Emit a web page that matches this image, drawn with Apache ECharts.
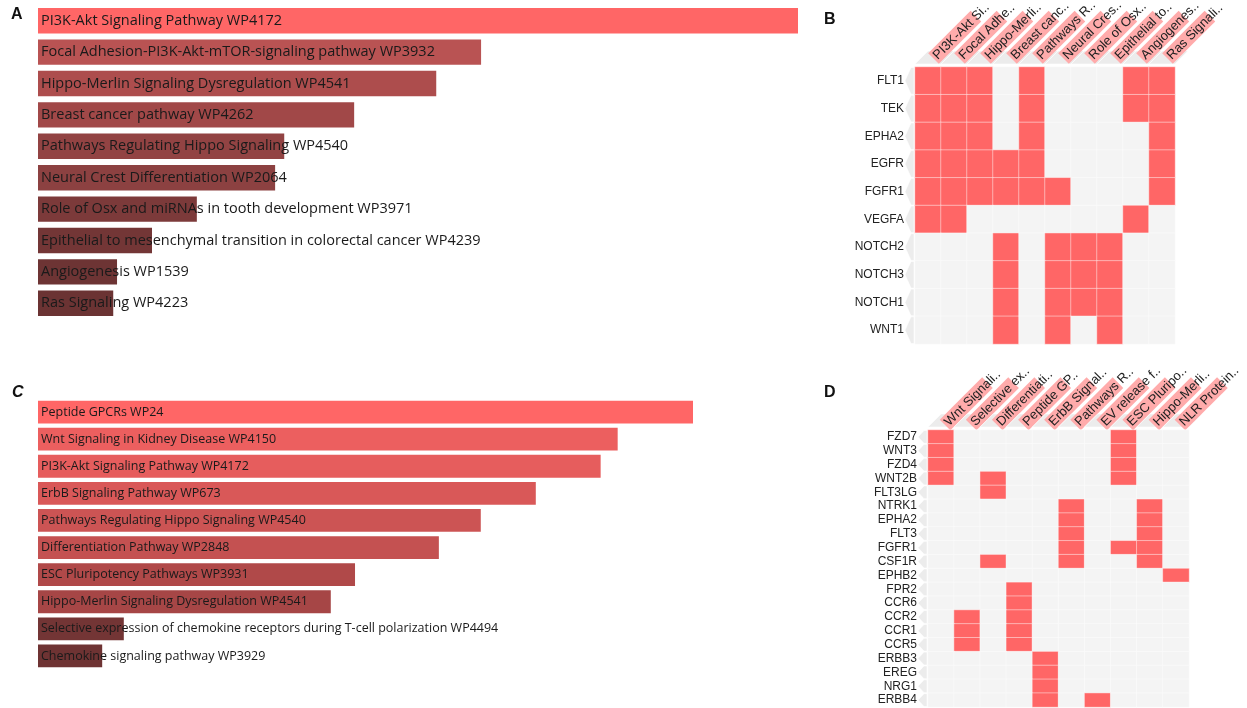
<!DOCTYPE html>
<html>
<head>
<meta charset="utf-8">
<title>Enriched pathways</title>
<script src="https://cdn.jsdelivr.net/npm/echarts@6/dist/echarts.min.js"></script>
<style>
  html, body { margin: 0; padding: 0; background: #fff; }
  #main { width: 1247px; height: 708px; }
</style>
</head>
<body>
<div id="main"></div>
<script>
// ---- panel A : bar chart ----
var aTerms = [
  'PI3K-Akt Signaling Pathway WP4172',
  'Focal Adhesion-PI3K-Akt-mTOR-signaling pathway WP3932',
  'Hippo-Merlin Signaling Dysregulation WP4541',
  'Breast cancer pathway WP4262',
  'Pathways Regulating Hippo Signaling WP4540',
  'Neural Crest Differentiation WP2064',
  'Role of Osx and miRNAs in tooth development WP3971',
  'Epithelial to mesenchymal transition in colorectal cancer WP4239',
  'Angiogenesis WP1539',
  'Ras Signaling WP4223'
];
var aScores = [100, 58.3, 52.4, 41.6, 32.4, 31.2, 20.9, 15.0, 10.4, 9.9];
var aColors = ['#ff6666', '#b95353', '#ad4d4d', '#a14848', '#924343', '#8c4141', '#7c3a3a', '#733636', '#6d3434', '#6b3333'];

// ---- panel C : bar chart ----
var cTerms = [
  'Peptide GPCRs WP24',
  'Wnt Signaling in Kidney Disease WP4150',
  'PI3K-Akt Signaling Pathway WP4172',
  'ErbB Signaling Pathway WP673',
  'Pathways Regulating Hippo Signaling WP4540',
  'Differentiation Pathway WP2848',
  'ESC Pluripotency Pathways WP3931',
  'Hippo-Merlin Signaling Dysregulation WP4541',
  'Selective expression of chemokine receptors during T-cell polarization WP4494',
  'Chemokine signaling pathway WP3929'
];
var cScores = [100, 88.5, 85.9, 76.0, 67.6, 61.2, 48.4, 44.7, 13.1, 9.8];
var cColors = ['#ff6666', '#ec5f5f', '#e65d5d', '#d95858', '#cc5454', '#c45151', '#b04949', '#a64646', '#733535', '#6e3333'];

// ---- panel B : gene x pathway heatmap ----
var bCols = ['PI3K-Akt Si..', 'Focal Adhe..', 'Hippo-Merli..', 'Breast canc..', 'Pathways R..',
             'Neural Cres..', 'Role of Osx..', 'Epithelial to..', 'Angiogenes..', 'Ras Signali..'];
var bRows = ['FLT1', 'TEK', 'EPHA2', 'EGFR', 'FGFR1', 'VEGFA', 'NOTCH2', 'NOTCH3', 'NOTCH1', 'WNT1'];
var bMatrix = [
  [1, 1, 1, 0, 1, 0, 0, 0, 1, 1],
  [1, 1, 1, 0, 1, 0, 0, 0, 1, 1],
  [1, 1, 1, 0, 1, 0, 0, 0, 0, 1],
  [1, 1, 1, 1, 1, 0, 0, 0, 0, 1],
  [1, 1, 1, 1, 1, 1, 0, 0, 0, 1],
  [1, 1, 0, 0, 0, 0, 0, 0, 1, 0],
  [0, 0, 0, 1, 0, 1, 1, 1, 0, 0],
  [0, 0, 0, 1, 0, 1, 1, 1, 0, 0],
  [0, 0, 0, 1, 0, 1, 1, 1, 0, 0],
  [0, 0, 0, 1, 0, 1, 0, 1, 0, 0]
];

// ---- panel D : gene x pathway heatmap ----
var dCols = ['Wnt Signali..', 'Selective ex..', 'Differentiati..', 'Peptide GP..', 'ErbB Signal..',
             'Pathways R..', 'EV release f..', 'ESC Pluripo..', 'Hippo-Merli..', 'NLR Protein..'];
var dRows = ['FZD7', 'WNT3', 'FZD4', 'WNT2B', 'FLT3LG', 'NTRK1', 'EPHA2', 'FLT3', 'FGFR1', 'CSF1R',
             'EPHB2', 'FPR2', 'CCR6', 'CCR2', 'CCR1', 'CCR5', 'ERBB3', 'EREG', 'NRG1', 'ERBB4'];
var dMatrix = [
  [1, 0, 0, 0, 0, 0, 0, 1, 0, 0],
  [1, 0, 0, 0, 0, 0, 0, 1, 0, 0],
  [1, 0, 0, 0, 0, 0, 0, 1, 0, 0],
  [1, 0, 1, 0, 0, 0, 0, 1, 0, 0],
  [0, 0, 1, 0, 0, 0, 0, 0, 0, 0],
  [0, 0, 0, 0, 0, 1, 0, 0, 1, 0],
  [0, 0, 0, 0, 0, 1, 0, 0, 1, 0],
  [0, 0, 0, 0, 0, 1, 0, 0, 1, 0],
  [0, 0, 0, 0, 0, 1, 0, 1, 1, 0],
  [0, 0, 1, 0, 0, 1, 0, 0, 1, 0],
  [0, 0, 0, 0, 0, 0, 0, 0, 0, 1],
  [0, 0, 0, 1, 0, 0, 0, 0, 0, 0],
  [0, 0, 0, 1, 0, 0, 0, 0, 0, 0],
  [0, 1, 0, 1, 0, 0, 0, 0, 0, 0],
  [0, 1, 0, 1, 0, 0, 0, 0, 0, 0],
  [0, 1, 0, 1, 0, 0, 0, 0, 0, 0],
  [0, 0, 0, 0, 1, 0, 0, 0, 0, 0],
  [0, 0, 0, 0, 1, 0, 0, 0, 0, 0],
  [0, 0, 0, 0, 1, 0, 0, 0, 0, 0],
  [0, 0, 0, 0, 1, 0, 1, 0, 0, 0]
];

var barFont = '"Open Sans", "Noto Sans", sans-serif';
var heatFont = '"Liberation Sans", Arial, sans-serif';

function barData(scores, colors) {
  return scores.map(function (v, i) {
    return { value: v, itemStyle: { color: colors[i] } };
  });
}

function cells(matrix) {
  var out = [];
  matrix.forEach(function (row, j) {
    row.forEach(function (v, i) { out.push([i, j, v]); });
  });
  return out;
}

// slanted column headers (grey band + pink tag + text) and grey arrows by row labels
function decor(idx, colLabels, nRows, dx, dy) {
  var data = [];
  for (var i = 0; i < colLabels.length; i++) data.push([i, 0, 0]);
  for (var j = 0; j < nRows; j++) data.push([0, j, 1]);
  return {
    type: 'custom', xAxisIndex: idx, yAxisIndex: idx, silent: true, z: 1,
    data: data,
    renderItem: function (params, api) {
      var c = api.coord([api.value(0), api.value(1)]);
      var s = api.size([1, 1]);
      var w = s[0], h = s[1];
      if (api.value(2) === 0) {
        var top = c[1] - h / 2;
        var x0 = c[0] - w / 2, x1 = c[0] + w / 2;
        return {
          type: 'group',
          children: [
            {
              type: 'polygon',
              shape: { points: [[x0, top - 3], [x1, top - 3], [x1 + 13, top - 16], [x0 + 13, top - 16]] },
              style: { fill: '#ececec', stroke: '#ffffff', lineWidth: 0.6 }
            },
            {
              type: 'group', x: c[0] + dx, y: top - dy, rotation: Math.PI / 4,
              children: [
                { type: 'rect', shape: { x: 0, y: -7.5, width: 60, height: 15 }, style: { fill: '#ffabab' } },
                {
                  type: 'text',
                  style: {
                    text: colLabels[api.value(0)], x: 2, y: 0.5, align: 'left', verticalAlign: 'middle',
                    fontSize: 13, fontFamily: heatFont, fill: '#222'
                  }
                }
              ]
            }
          ]
        };
      }
      var gx = c[0] - w / 2;
      var y0 = c[1] - h / 2 + 0.5, y1 = c[1] + h / 2 - 0.5;
      return {
        type: 'polygon',
        shape: { points: [[gx - 10, c[1]], [gx - 4, y0], [gx - 1, y0], [gx - 1, y1], [gx - 4, y1]] },
        style: { fill: '#ececec', stroke: '#ffffff', lineWidth: 0.6 }
      };
    }
  };
}

function heatXAxis(idx, labels) {
  return {
    gridIndex: idx, type: 'category', position: 'top', data: labels,
    axisLine: { show: false }, axisTick: { show: false }, splitLine: { show: false },
    axisLabel: { show: false }
  };
}

function heatYAxis(idx, labels) {
  return {
    gridIndex: idx, type: 'category', data: labels, inverse: true,
    axisLine: { show: false }, axisTick: { show: false }, splitLine: { show: false },
    axisLabel: { interval: 0, margin: 11, fontSize: 12, fontFamily: heatFont, color: '#222' }
  };
}

var heatItem = { borderColor: 'rgba(255,255,255,0.75)', borderWidth: 0.6 };
var letterStyle = { fontSize: 16, fontWeight: 'bold', fontFamily: heatFont, color: '#111' };

var option = {
  animation: false,
  backgroundColor: '#ffffff',
  title: [
    { text: 'A', left: 11, top: 7, padding: 0, textStyle: letterStyle },
    { text: 'B', left: 824, top: 12, padding: 0, textStyle: letterStyle },
    { text: 'C', left: 12, top: 385, padding: 0, textStyle: { fontSize: 16, fontWeight: 'bold', fontStyle: 'italic', fontFamily: heatFont, color: '#111' } },
    { text: 'D', left: 824, top: 385, padding: 0, textStyle: letterStyle }
  ],
  grid: [
    { left: 38, top: 5, width: 760, height: 314 },
    { left: 38, top: 398.5, width: 655, height: 271 },
    { left: 915, top: 67, width: 260, height: 277 },
    { left: 928, top: 430, width: 261, height: 277 }
  ],
  xAxis: [
    { gridIndex: 0, type: 'value', min: 0, max: 100, show: false },
    { gridIndex: 1, type: 'value', min: 0, max: 100, show: false },
    heatXAxis(2, bCols),
    heatXAxis(3, dCols)
  ],
  yAxis: [
    { gridIndex: 0, type: 'category', data: aTerms, inverse: true, show: false },
    { gridIndex: 1, type: 'category', data: cTerms, inverse: true, show: false },
    heatYAxis(2, bRows),
    heatYAxis(3, dRows)
  ],
  visualMap: {
    type: 'piecewise', show: false, seriesIndex: [2, 3], dimension: 2,
    pieces: [{ value: 0, color: '#f4f4f4' }, { value: 1, color: '#ff6666' }]
  },
  series: [
    {
      type: 'bar', xAxisIndex: 0, yAxisIndex: 0, barCategoryGap: '19%',
      data: barData(aScores, aColors),
      label: {
        show: true, position: 'insideLeft', distance: 3,
        formatter: function (p) { return aTerms[p.dataIndex]; },
        fontSize: 14.5, fontFamily: barFont, color: '#1a1a1a'
      }
    },
    {
      type: 'bar', xAxisIndex: 1, yAxisIndex: 1, barCategoryGap: '16%',
      data: barData(cScores, cColors),
      label: {
        show: true, position: 'insideLeft', distance: 3,
        formatter: function (p) { return cTerms[p.dataIndex]; },
        fontSize: 12.5, fontFamily: barFont, color: '#1a1a1a'
      }
    },
    { type: 'heatmap', xAxisIndex: 2, yAxisIndex: 2, data: cells(bMatrix), itemStyle: heatItem },
    { type: 'heatmap', xAxisIndex: 3, yAxisIndex: 3, data: cells(dMatrix), itemStyle: heatItem },
    decor(2, bCols, bRows.length, 5.5, 8.5),
    decor(3, dCols, dRows.length, 4, 5)
  ]
};

var myChart = echarts.init(document.getElementById('main'), null, { renderer: 'canvas' });
myChart.setOption(option);
</script>
</body>
</html>
